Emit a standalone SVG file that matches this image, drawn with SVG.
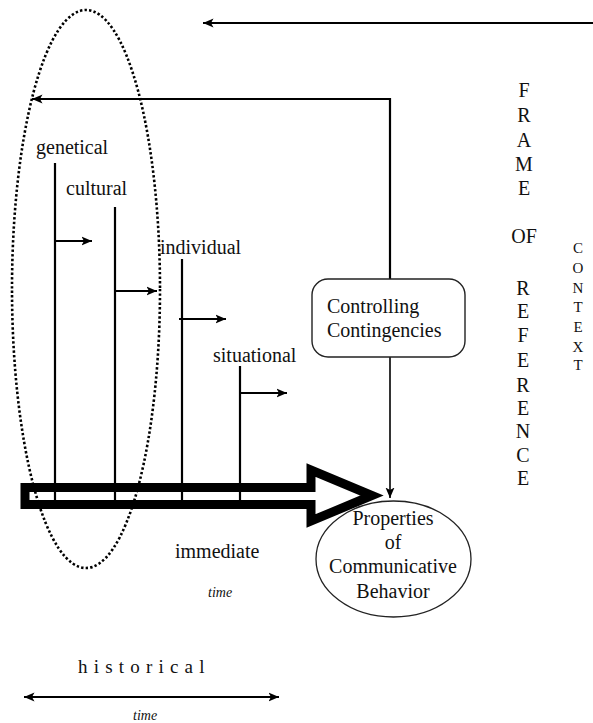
<svg xmlns="http://www.w3.org/2000/svg" width="593" height="723" viewBox="0 0 593 723">
  <style>
    text { font-family: 'Liberation Serif', 'Times New Roman', Times, serif; fill: #111; }
    .lbl { font-size: 20px; }
    .vert { font-size: 20px; text-anchor: middle; }
    .ctx { font-size: 15px; text-anchor: middle; }
    .it { font-style: italic; font-size: 14px; }
    .ln { stroke: #000; stroke-width: 2.2; fill: none; }
    .thin { stroke: #000; stroke-width: 1.6; fill: none; }
  </style>
  <defs>
    <marker id="head" viewBox="0 -6 12 12" refX="10.5" refY="0" markerWidth="12" markerHeight="12" markerUnits="userSpaceOnUse" orient="auto-start-reverse">
      <path d="M0,-4.5 L10.5,0 L0,4.5 L2.5,0 Z" fill="#000"/>
    </marker>
  </defs>

  <rect width="593" height="723" fill="#fff"/>

  <!-- connectors -->
  <g id="connectors">
    <!-- context arrow across the top -->
    <line class="ln" x1="593" y1="23" x2="203" y2="23" marker-end="url(#head)"/>
    <!-- feedback from controlling contingencies back to history -->
    <polyline class="ln" points="390,279 390,99 32,99" marker-end="url(#head)"/>
    <!-- contingencies to behavior -->
    <line class="thin" x1="390" y1="357" x2="390" y2="498" marker-end="url(#head)"/>

    <!-- level stems -->
    <line class="ln" x1="55" y1="163" x2="55" y2="501"/>
    <line class="ln" x1="115" y1="207" x2="115" y2="501"/>
    <line class="ln" x1="182" y1="259" x2="182" y2="501"/>
    <line class="ln" x1="240" y1="366" x2="240" y2="501"/>

    <!-- level influence arrows -->
    <line class="ln" x1="55" y1="241" x2="92" y2="241" marker-end="url(#head)"/>
    <line class="ln" x1="115" y1="291" x2="157" y2="291" marker-end="url(#head)"/>
    <line class="ln" x1="179" y1="319" x2="226" y2="319" marker-end="url(#head)"/>
    <line class="ln" x1="240" y1="393" x2="287" y2="393" marker-end="url(#head)"/>

    <!-- hollow time arrow -->
    <path d="M25,487.5 H311 V470 L372,495.5 L311,521 V504.5 H25 Z" fill="none" stroke="#000" stroke-width="9" stroke-linejoin="miter"/>

    <!-- historical time span -->
    <line class="ln" x1="24" y1="697" x2="279" y2="697" marker-start="url(#head)" marker-end="url(#head)"/>
  </g>

  <!-- historical bracket -->
  <g id="historical-span">
    <ellipse cx="86" cy="289" rx="74" ry="279" fill="none" stroke="#000" stroke-width="2.6" stroke-dasharray="2.4 2.2"/>
  </g>

  <!-- levels -->
  <g id="genetical"><text class="lbl" x="36" y="154">genetical</text></g>
  <g id="cultural"><text class="lbl" x="66" y="195">cultural</text></g>
  <g id="individual"><text class="lbl" x="160" y="254">individual</text></g>
  <g id="situational"><text class="lbl" x="213" y="362">situational</text></g>

  <!-- controlling contingencies -->
  <g id="controlling">
    <rect x="312" y="279" width="153" height="78" rx="16" ry="16" fill="#fff" stroke="#222" stroke-width="1.4"/>
    <text class="lbl" x="327" y="313">Controlling</text>
    <text class="lbl" x="327" y="337">Contingencies</text>
  </g>

  <!-- properties of communicative behavior -->
  <g id="properties">
    <ellipse cx="393.5" cy="559" rx="77.5" ry="58" fill="none" stroke="#222" stroke-width="1.3"/>
    <text class="lbl" x="393" y="525" text-anchor="middle">Properties</text>
    <text class="lbl" x="393" y="549" text-anchor="middle">of</text>
    <text class="lbl" x="393" y="573" text-anchor="middle">Communicative</text>
    <text class="lbl" x="393" y="598" text-anchor="middle">Behavior</text>
  </g>

  <!-- time scales -->
  <g id="immediate">
    <text class="lbl" x="175" y="558">immediate</text>
    <text class="it" x="208" y="597">time</text>
  </g>
  <g id="historical">
    <text class="lbl" x="78" y="673" style="font-size:19px;letter-spacing:6.2px">historical</text>
    <text class="it" x="133" y="720">time</text>
  </g>

  <!-- frame of reference -->
  <g id="frame-of-reference">
    <text class="vert" x="524" y="97">F</text>
    <text class="vert" x="524" y="122">R</text>
    <text class="vert" x="524" y="147">A</text>
    <text class="vert" x="524" y="171">M</text>
    <text class="vert" x="524" y="195">E</text>
    <text class="vert" x="524" y="243">OF</text>
    <text class="vert" x="523" y="295">R</text>
    <text class="vert" x="523" y="318">E</text>
    <text class="vert" x="523" y="342">F</text>
    <text class="vert" x="523" y="367">E</text>
    <text class="vert" x="523" y="392">R</text>
    <text class="vert" x="523" y="415">E</text>
    <text class="vert" x="523" y="438">N</text>
    <text class="vert" x="523" y="462">C</text>
    <text class="vert" x="523" y="485">E</text>
  </g>

  <!-- context -->
  <g id="context">
    <text class="ctx" x="578" y="253">C</text>
    <text class="ctx" x="578" y="273">O</text>
    <text class="ctx" x="578" y="293">N</text>
    <text class="ctx" x="578" y="312">T</text>
    <text class="ctx" x="578" y="332">E</text>
    <text class="ctx" x="578" y="352">X</text>
    <text class="ctx" x="578" y="370">T</text>
  </g>
</svg>
